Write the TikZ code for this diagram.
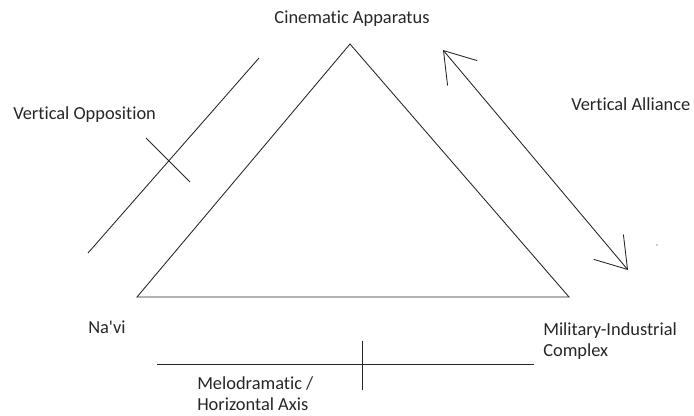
\documentclass[tikz,border=0pt]{standalone}
\usepackage{fontspec}
\setmainfont{Carlito}[Ligatures=NoCommon]
\usepackage{tikz}
\usetikzlibrary{arrows.meta,positioning}
\tikzset{
  axis-line/.style={draw=black!85, line width=0.65pt},
  axis-label/.style={font=\fontsize{13.8}{16}\selectfont, text=black!85, inner sep=0pt, align=left},
  alliance-tip/.style={{Straight Barb[length=22pt, width=29pt, line width=0.65pt]}-{Straight Barb[length=22pt, width=29pt, line width=0.65pt]}}
}

\begin{document}
\begin{tikzpicture}[x=0.75pt, y=-0.75pt]
  \useasboundingbox (0,0) rectangle (694,415);
  % triangle corners
  \coordinate (apex) at (350,44);
  \coordinate (navi) at (137,297);
  \coordinate (mic) at (569,297);
  \draw[axis-line, line join=miter] (apex) -- (navi) -- (mic) -- cycle;

  % labels
  \node[axis-label] (apparatus) at (352,19) {Cinematic Apparatus};
  \node[axis-label, anchor=west] (opposition) at (13,115) {Vertical Opposition};
  \node[axis-label, anchor=west] (alliance) at (571,104) {Vertical Alliance};
  \node[axis-label, anchor=west] (navilabel) at (88,327) {Na\textquotesingle vi};
  \node[axis-label, anchor=west] (miclabel) at (543,341) {Military-Industrial\\Complex};
  \node[axis-label, anchor=west] (melo) at (197,394) {Melodramatic /\\Horizontal Axis};

  % vertical opposition, crossed
  \coordinate (opp-a) at (88,253);
  \coordinate (opp-b) at (259,58);
  \coordinate (cross-a) at (146,138);
  \coordinate (cross-b) at (190,182);
  \draw[axis-line] (opp-a) -- (opp-b);
  \draw[axis-line] (cross-a) -- (cross-b);

  % vertical alliance
  \coordinate (all-a) at (443,50);
  \coordinate (all-b) at (628,270);
  \draw[axis-line, alliance-tip] (all-a) -- (all-b);
  \fill[black!85] (657,245) circle (0.7);

  % horizontal axis
  \coordinate (hor-a) at (157,364);
  \coordinate (hor-b) at (534,364);
  \coordinate (tick-a) at (362,341);
  \coordinate (tick-b) at (362,390);
  \draw[axis-line] (hor-a) -- (hor-b);
  \draw[axis-line] (tick-a) -- (tick-b);
\end{tikzpicture}
\end{document}
